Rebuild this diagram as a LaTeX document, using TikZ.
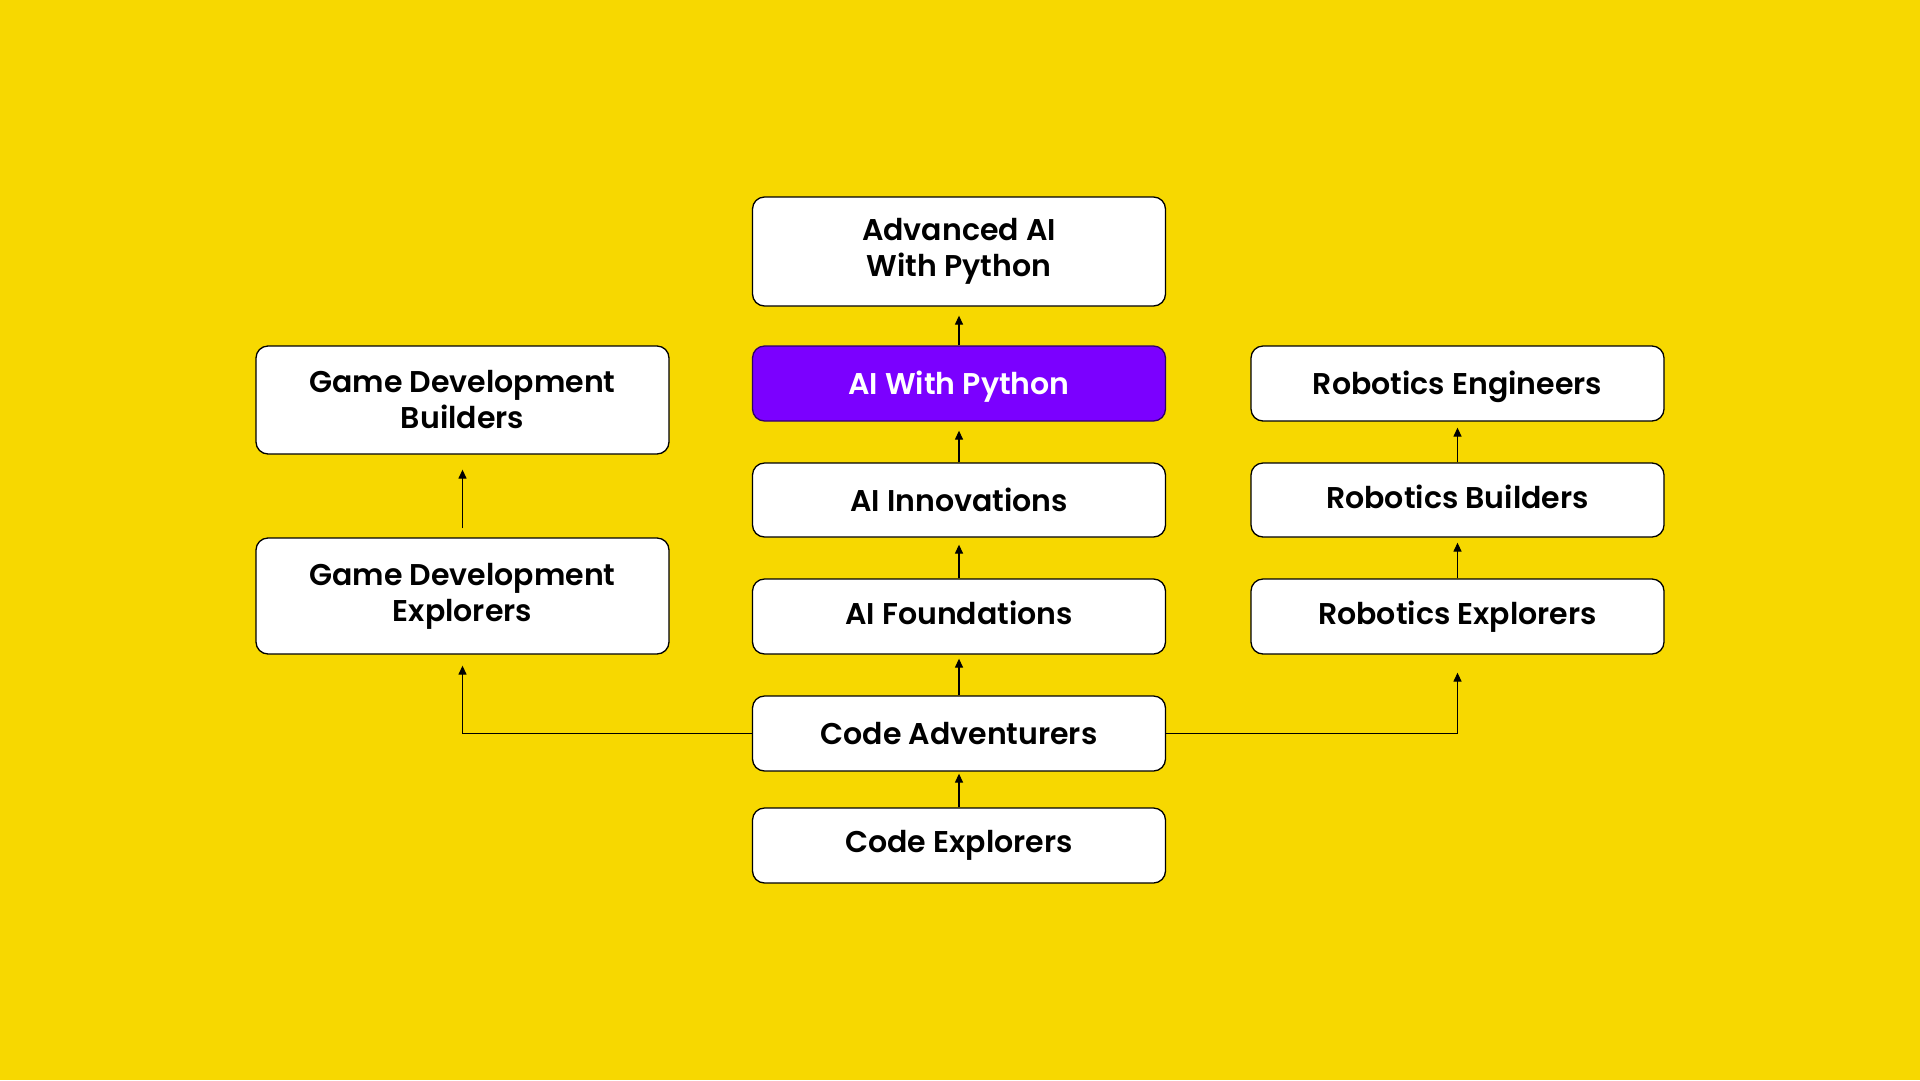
\documentclass[tikz,border=0pt]{standalone}
\usepackage{fontspec}
\setmainfont{Poppins SemiBold}
\usetikzlibrary{arrows.meta}
\definecolor{bgyellow}{RGB}{247,216,0}
\definecolor{aipurple}{RGB}{123,0,255}
\tikzset{
  box/.style={draw=black, line width=1.3pt, fill=white, rounded corners=12pt,
    minimum width=413pt, align=center, inner sep=0pt, text=black,
    font=\fontsize{30}{36}\selectfont},
  hot/.style={box, fill=aipurple, text=white, draw=black!60!aipurple},
  lower/.style={text height=25pt, text depth=3pt},
  higher/.style={text height=21pt, text depth=5pt},
  arr/.style={draw=black, line width=1.3pt, -{Triangle[width=8pt,length=9pt]}}
}
\begin{document}
\begin{tikzpicture}[x=1pt,y=-1pt]
\fill[bgyellow] (0,0) rectangle (1920,1080);
\useasboundingbox (0,0) rectangle (1920,1080);
% centre column
\node[box, minimum height=109pt] (adv) at (959,251.5) {Advanced AI\\With Python};
\node[hot, lower, minimum height=75pt] (aiwp) at (959,383.5) {AI With Python};
\node[box, minimum height=74pt] (ainn) at (959,500) {AI Innovations};
\node[box, higher, minimum height=75pt] (af) at (959,616.5) {AI Foundations};
\node[box, minimum height=75pt] (ca) at (959,733.5) {Code Adventurers};
\node[box, minimum height=75pt] (ce) at (959,845.5) {Code Explorers};
% left column
\node[box, minimum height=108pt] (gdb) at (462.5,400) {Game Development\\Builders};
\node[box, minimum height=116pt] (gde) at (462.5,596) {Game Development\\Explorers};
% right column
\node[box, lower, minimum height=75pt] (re) at (1457.5,383.5) {Robotics Engineers};
\node[box, higher, minimum height=74pt] (rb) at (1457.5,500) {Robotics Builders};
\node[box, minimum height=75pt] (rx) at (1457.5,616.5) {Robotics Explorers};
% connectors
\draw[arr, shorten >=2pt] (ce) -- (ca);
\draw[arr, shorten >=4pt] (ca) -- (af);
\draw[arr, shorten >=7pt] (af) -- (ainn);
\draw[arr, shorten >=9pt] (ainn) -- (aiwp);
\draw[arr, shorten >=9pt] (aiwp) -- (adv);
\draw[arr, shorten <=9pt, shorten >=15pt] (gde) -- (gdb);
\draw[arr, shorten >=5pt] (rx) -- (rb);
\draw[arr, shorten >=6pt] (rb) -- (re);
\draw[arr, shorten >=11pt] (ca.west) -| (gde.south);
\draw[arr, shorten >=18pt] (ca.east) -| (rx.south);
\end{tikzpicture}
\end{document}
